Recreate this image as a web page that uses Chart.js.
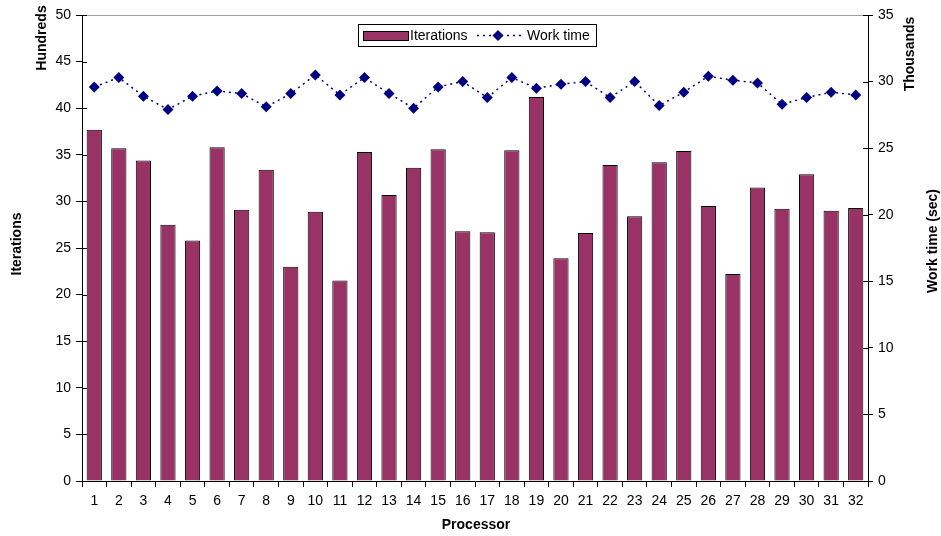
<!DOCTYPE html>
<html>
<head>
<meta charset="utf-8">
<script src="https://cdn.jsdelivr.net/npm/chart.js@4/dist/chart.umd.min.js"></script>
<style>
html,body{margin:0;padding:0;background:#fff;}
#wrap{width:941px;height:536px;position:relative;}
</style>
</head>
<body>
<div id="wrap"><canvas id="c" width="941" height="536"></canvas></div>
<script>
// ---- data ----
const categories = ['1','2','3','4','5','6','7','8','9','10','11','12','13','14','15','16','17','18','19','20','21','22','23','24','25','26','27','28','29','30','31','32'];
// Iterations, in hundreds
const iterations = [37.7,35.7,34.4,27.5,25.8,35.8,29.1,33.4,23.0,28.9,21.5,35.3,30.7,33.6,35.6,26.8,26.7,35.5,41.2,23.9,26.6,33.9,28.4,34.2,35.4,29.5,22.2,31.5,29.2,32.9,29.0,29.3];
// Work time (sec), in thousands
const workTime = [29.6,30.3,28.9,27.9,28.9,29.3,29.1,28.1,29.1,30.5,29.0,30.3,29.1,28.0,29.6,30.0,28.8,30.3,29.5,29.8,30.0,28.8,30.0,28.2,29.2,30.4,30.1,29.9,28.3,28.8,29.2,29.0];
const seriesNames = ['Iterations','Work time'];
const leftTitles = ['Iterations','Hundreds'];
const rightTitles = ['Work time (sec)','Thousands'];
const xTitle = 'Processor';
const leftRange = [0,50,5];
const rightRange = [0,35,5];

const FONT = '"Liberation Sans", Arial, Helvetica, sans-serif';
Chart.defaults.font.family = FONT;
Chart.defaults.font.size = 14;
Chart.defaults.color = '#000';

const decor = {
  id:'decor',
  afterDraw(chart){
    const ctx = chart.ctx, a = chart.chartArea;
    ctx.save();
    // top border of plot area
    ctx.strokeStyle = '#a0a0a0'; ctx.lineWidth = 1;
    ctx.beginPath(); ctx.moveTo(a.left, a.top+0.5); ctx.lineTo(a.right, a.top+0.5); ctx.stroke();
    // inner tick halves on y axes
    ctx.strokeStyle = '#000';
    const yl = chart.scales.y, yr = chart.scales.y1;
    ctx.beginPath();
    yl.ticks.forEach(t=>{const p=Math.round(yl.getPixelForValue(t.value))+0.5; ctx.moveTo(a.left,p); ctx.lineTo(a.left+5,p);});
    yr.ticks.forEach(t=>{const p=Math.round(yr.getPixelForValue(t.value))+0.5; ctx.moveTo(a.right,p); ctx.lineTo(a.right-5,p);});
    ctx.stroke();
    // titles
    ctx.fillStyle = '#000';
    ctx.font = 'bold 14px ' + FONT;
    ctx.textAlign = 'center'; ctx.textBaseline = 'middle';
    const rot = (txt,x,y)=>{ctx.save();ctx.translate(x,y);ctx.rotate(-Math.PI/2);ctx.fillText(txt,0,0);ctx.restore();};
    rot(leftTitles[0], 17, 244);
    rot(leftTitles[1], 42, 38);
    rot(rightTitles[0], 933, 241);
    rot(rightTitles[1], 910, 54);
    ctx.fillText(xTitle, 476, 525);
    // legend
    const lx=358, ly=24, lw=238, lh=22;
    ctx.fillStyle='#fff'; ctx.fillRect(lx,ly,lw,lh);
    ctx.strokeStyle='#000'; ctx.lineWidth=1; ctx.strokeRect(lx+0.5,ly+0.5,lw,lh);
    const ds0 = chart.data.datasets[0], ds1 = chart.data.datasets[1];
    ctx.fillStyle = ds0.backgroundColor; ctx.fillRect(363,31,45,9);
    ctx.strokeStyle='#000'; ctx.strokeRect(363.5,31.5,45,9);
    ctx.fillStyle='#000'; ctx.font = '14px ' + FONT; ctx.textAlign='left';
    ctx.fillText(ds0.label, 410, 36);
    ctx.strokeStyle = ds1.borderColor; ctx.lineWidth=1.5; ctx.setLineDash(ds1.borderDash);
    ctx.beginPath(); ctx.moveTo(477,35.5); ctx.lineTo(522,35.5); ctx.stroke();
    ctx.setLineDash([]);
    ctx.fillStyle = ds1.pointBackgroundColor;
    ctx.beginPath(); ctx.moveTo(498,30); ctx.lineTo(503.5,35.5); ctx.lineTo(498,41); ctx.lineTo(492.5,35.5); ctx.closePath(); ctx.fill();
    ctx.fillStyle='#000';
    ctx.fillText(ds1.label, 527, 36);
    ctx.restore();
  }
};

new Chart(document.getElementById('c'), {
  data:{
    labels: categories,
    datasets:[
      {type:'bar', label:seriesNames[0], data:iterations, yAxisID:'y', order:1,
       backgroundColor:'#993366', borderColor:'#000', borderWidth:1,
       barPercentage:0.62, categoryPercentage:1.0},
      {type:'line', label:seriesNames[1], data:workTime, yAxisID:'y1', order:0,
       borderColor:'#000080', borderWidth:1.5, borderDash:[2,4], fill:false, tension:0,
       pointStyle:'rectRot', pointRadius:5.5, pointBackgroundColor:'#000080', pointBorderWidth:0}
    ]
  },
  options:{
    responsive:false, animation:false,
    layout:{padding:{top:15,left:0,right:0,bottom:0}},
    plugins:{legend:{display:false}, tooltip:{enabled:false}},
    scales:{
      x:{
        offset:true,
        grid:{offset:true, drawOnChartArea:false, color:'#000', tickLength:6},
        border:{display:true, color:'#000'},
        ticks:{padding:6, maxRotation:0, autoSkip:false, font:{size:14}},
        afterFit(s){ s.height = 55; }
      },
      y:{
        position:'left', min:leftRange[0], max:leftRange[1],
        ticks:{stepSize:leftRange[2], padding:5, font:{size:14}},
        grid:{drawOnChartArea:false, color:'#000', tickLength:6},
        border:{display:true, color:'#000'},
        afterFit(s){ s.width = 82; }
      },
      y1:{
        position:'right', min:rightRange[0], max:rightRange[1],
        ticks:{stepSize:rightRange[2], padding:5, font:{size:14}},
        grid:{drawOnChartArea:false, color:'#000', tickLength:5},
        border:{display:true, color:'#000'},
        afterFit(s){ s.width = 73; }
      }
    }
  },
  plugins:[decor]
});
</script>
</body>
</html>
